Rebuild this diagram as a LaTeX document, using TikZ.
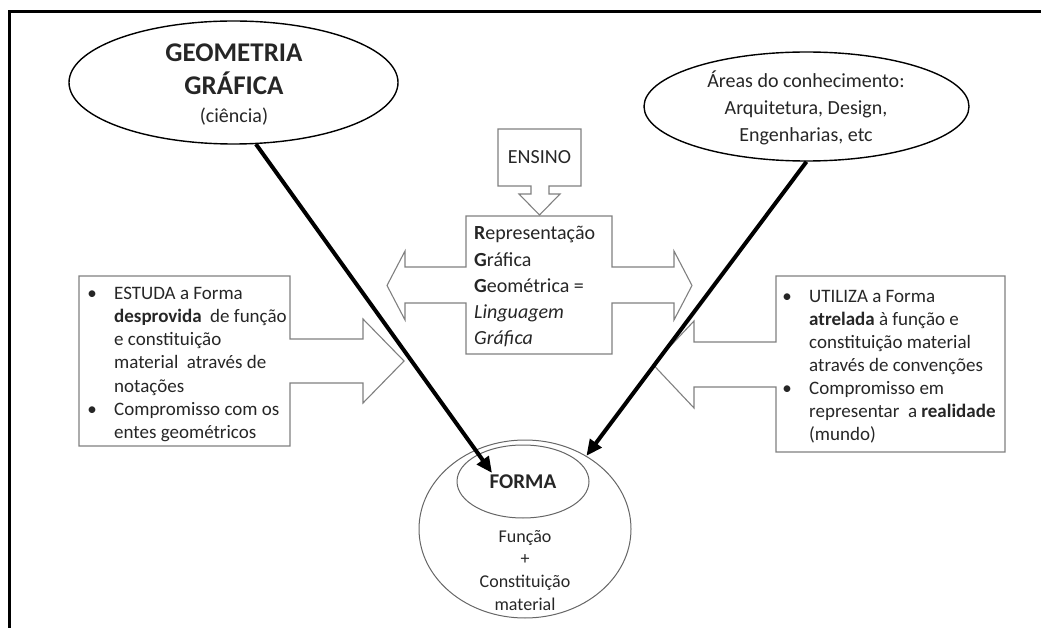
\documentclass[tikz,border=0pt]{standalone}
\usepackage{fontspec}
\setmainfont{Carlito}
\usetikzlibrary{shapes.geometric,arrows.meta}
\newcommand\tabL[1]{\begin{tabular}[t]{@{}l@{}}#1\end{tabular}}
\newcommand\tabC[1]{\begin{tabular}[t]{@{}c@{}}#1\end{tabular}}
\begin{document}
\begin{tikzpicture}[x=1pt,y=-1pt,
  txt/.style={inner sep=0pt, text=black!85, anchor=base},
  txtl/.style={inner sep=0pt, text=black!85, anchor=base west},
  frm/.style={draw=black, line width=1.4pt, ellipse, inner sep=0pt},
  frmg/.style={draw=black!60, line width=1pt, ellipse, inner sep=0pt},
  blk/.style={draw=black!50, line width=1.1pt, line join=miter},
  big/.style={line width=4pt, -{Triangle[length=16pt,width=14pt]}},
  body/.style={font=\fontsize{19}{23.3}\selectfont},
]
\useasboundingbox (0,0) rectangle (1041,628);
% frame
\draw[line width=3pt] (9.5,628) -- (9.5,12) -- (1041,12);

% block outlines
\draw[blk] (79,276) -- (290,276) -- (290,339) -- (363,339) -- (363,319) -- (404,361)
  -- (363,403) -- (363,383) -- (290,383) -- (290,446) -- (79,446) -- cycle;
\draw[blk] (776,276) -- (1005,276) -- (1005,452) -- (776,452) -- (776,387) -- (694,387)
  -- (694,408) -- (653,364.5) -- (694,321) -- (694,342) -- (776,342) -- cycle;
\draw[blk] (466,216) -- (612,216) -- (612,267) -- (674,267) -- (674,251) -- (692,285.5)
  -- (674,320) -- (674,303) -- (612,303) -- (612,354) -- (466,354) -- (466,303)
  -- (405,303) -- (405,320) -- (387,285.5) -- (405,251) -- (405,267) -- (466,267) -- cycle;
\draw[blk] (498,129) -- (581,129) -- (581,186) -- (549,186) -- (549,194) -- (560,194)
  -- (539.5,215) -- (519,194) -- (531,194) -- (531,186) -- (498,186) -- cycle;

% ellipses
\node[frm, minimum width=329pt, minimum height=123pt] (geo) at (233.5,82.5) {};
\node[frm, minimum width=325pt, minimum height=109pt] (areas) at (806.5,106.5) {};
\node[frmg, minimum width=212pt, minimum height=178pt] (outer) at (525,529) {};
\node[frmg, minimum width=132pt, minimum height=73pt] (inner) at (523,481.5) {};

% texts
\node[txt, font=\fontsize{27}{34}\selectfont\bfseries] (geoT1) at (234,62) {GEOMETRIA};
\node[txt, font=\fontsize{27}{34}\selectfont\bfseries] (geoT2) at (234,95) {GRÁFICA};
\node[txt, font=\fontsize{20}{24}\selectfont] (geoT3) at (234,123) {(ciência)};

\node[txt, font=\fontsize{20}{26.8}\selectfont] (areasT) at (806,88)
  {\tabC{Áreas do conhecimento:\\Arquitetura, Design,\\Engenharias, etc}};

\node[txt, font=\fontsize{20}{24}\selectfont] (ensT) at (539.5,164) {ENSINO};

\node[txtl, font=\fontsize{20}{26.25}\selectfont] (rgT) at (474,240)
  {\tabL{\textbf{R}epresentação\\\textbf{G}ráfica\\\textbf{G}eométrica =\\\textit{Linguagem}\\\textit{Gráfica}}};

\node[txtl, body] (leftT) at (114,299)
  {\tabL{ESTUDA a Forma\\\textbf{desprovida}\ \ de função\\e constituição\\material\ \ através de\\notações\\Compromisso com os\\entes geométricos}};
\node[txt, body] (bL1) at (92,299) {•};
\node[txt, body] (bL2) at (92,415.5) {•};

\node[txtl, font=\fontsize{19}{23}\selectfont] (rightT) at (809,302)
  {\tabL{UTILIZA a Forma\\\textbf{atrelada} à função e\\constituição material\\através de convenções\\Compromisso em\\representar\ \ a \textbf{realidade}\\(mundo)}};
\node[txt, body] (bR1) at (787,302) {•};
\node[txt, body] (bR2) at (787,394) {•};

\node[txt, font=\fontsize{21}{25}\selectfont\bfseries] (formaT) at (523,488) {FORMA};
\node[txt, font=\fontsize{18}{22.7}\selectfont] (funcT) at (525,542)
  {\tabC{Função\\+\\Constituição\\material}};

% thick arrows
\coordinate (tipL) at (492,473);
\draw[big] (geo.-70) -- (tipL);
\draw[big] (areas.south) -- (outer.50);
\end{tikzpicture}
\end{document}
